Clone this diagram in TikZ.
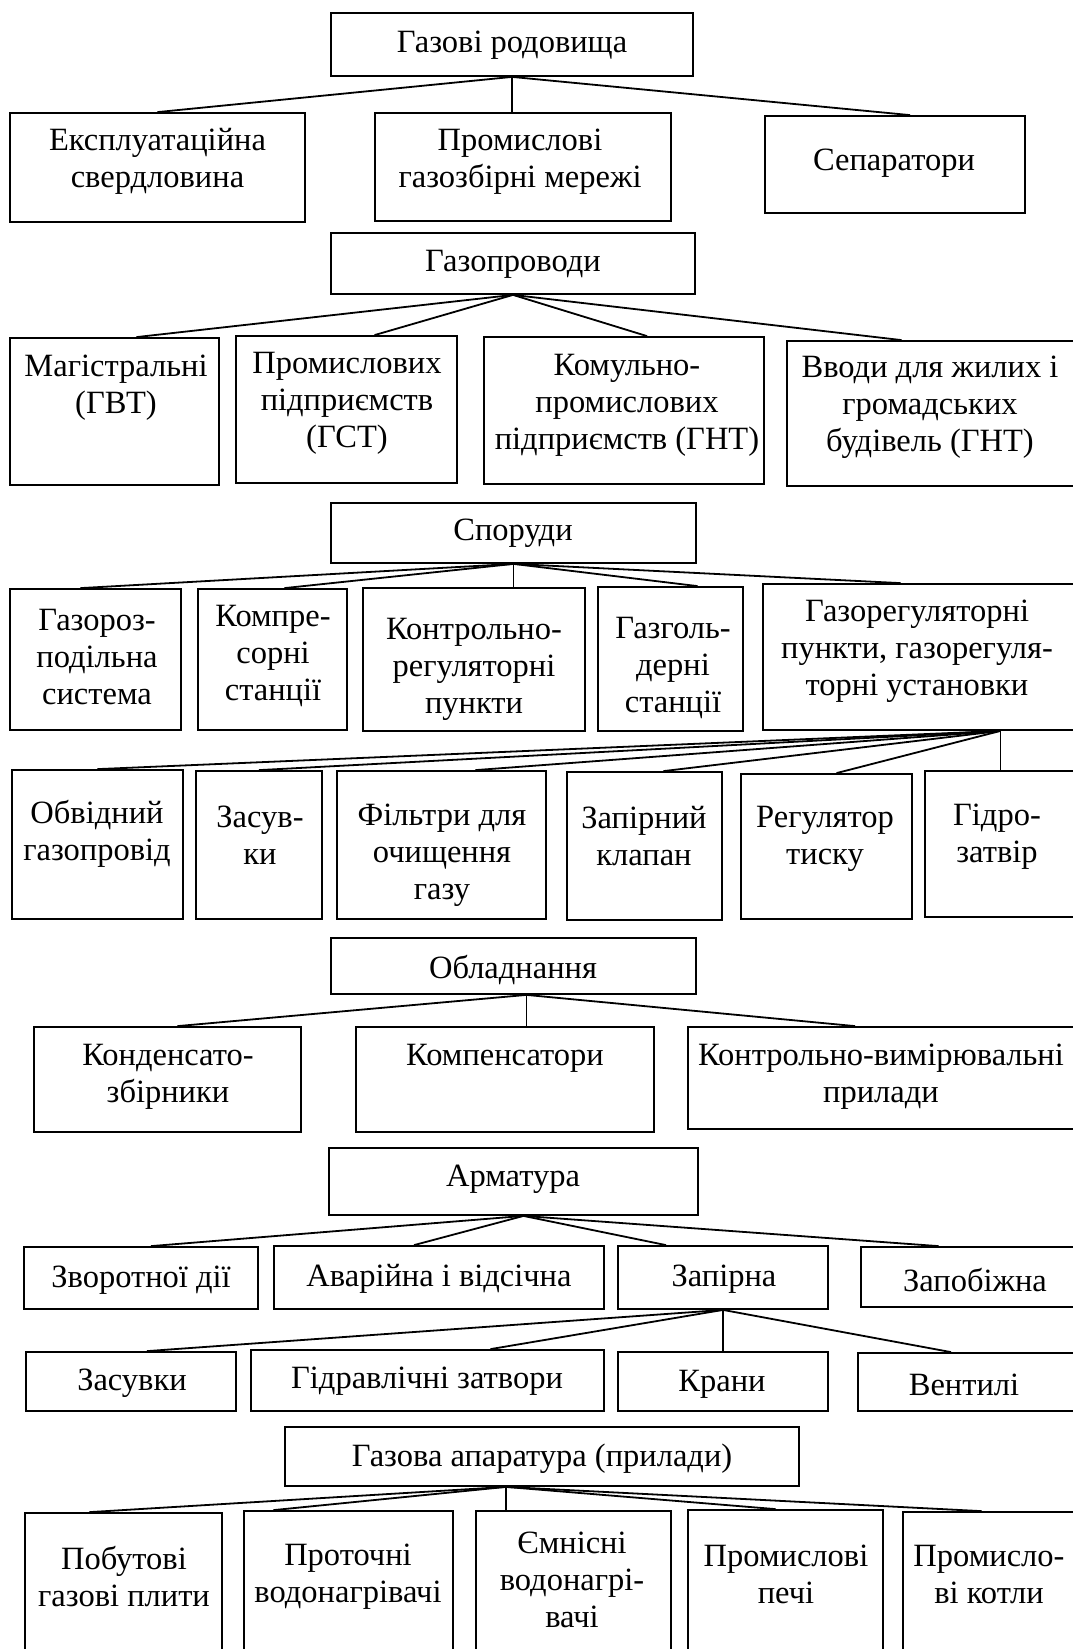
\documentclass[tikz,border=0pt]{standalone}
\usepackage{fontspec}
\setmainfont{Liberation Serif}
\usetikzlibrary{calc}
\tikzset{
  box/.style={draw, line width=1.8pt, inner sep=0pt},
  txt/.style={align=center, inner sep=0pt, yshift=-2pt, font=\fontsize{32.5}{37}\selectfont},
  ln/.style={line width=1.8pt},
  thinln/.style={line width=1.2pt}
}
\begin{document}
\begin{tikzpicture}[x=1pt,y=-1pt]
\useasboundingbox (0,0) rectangle (1073,1649);
\clip (0,0) rectangle (1073,1649);
% Газові родовища
\node[box, minimum width=362pt, minimum height=63pt] (gr) at (512,44.5) {};
\node[txt] (grT) at (512,43) {Газові родовища};
\node[box, minimum width=295pt, minimum height=109pt] (expl) at (157.5,167.5) {};
\node[txt] (explT) at (157.5,159) {Експлуатаційна\\свердловина};
\node[box, minimum width=296pt, minimum height=108pt] (prom) at (523,167) {};
\node[txt] (promT) at (520,160) {Промислові\\газозбірні мережі};
\node[box, minimum width=260pt, minimum height=97pt] (sep) at (895,164.5) {};
\node[txt] (sepT) at (894,161) {Сепаратори};
\draw[ln] (gr.south) -- (expl.north);
\draw[thinln] (gr.south) -- (gr.south |- prom.north);
\draw[ln] (gr.south) -- ($(sep.north)+(15,0)$);
% Газопроводи
\node[box, minimum width=364pt, minimum height=61pt] (gp) at (513,263.5) {};
\node[txt] (gpT) at (513,262) {Газопроводи};
\node[box, minimum width=209pt, minimum height=147pt] (mag) at (114.5,411.5) {};
\node[txt] (magT) at (116,386) {Магістральні\\(ГВТ)};
\node[box, minimum width=221pt, minimum height=147pt] (pp) at (346.5,409.5) {};
\node[txt] (ppT) at (347,401) {Промислових\\підприємств\\(ГСТ)};
\node[box, minimum width=280pt, minimum height=147pt] (kp) at (624,410.5) {};
\node[txt] (kpT) at (627,403) {Комульно-\\промислових\\підприємств (ГНТ)};
\node[box, minimum width=289pt, minimum height=145pt] (vv) at (931.5,413.5) {};
\node[txt] (vvT) at (930,405.5) {Вводи для жилих і\\громадських\\будівель (ГНТ)};
\draw[ln] (gp.south) -- ($(mag.north)+(22,0)$);
\draw[ln] (gp.south) -- ($(pp.north)+(28,0)$);
\draw[ln] (gp.south) -- ($(kp.north)+(23,0)$);
\draw[ln] (gp.south) -- ($(vv.north)+(-30,0)$);
% Споруди
\node[box, minimum width=365pt, minimum height=60pt] (sp) at (513.5,533) {};
\node[txt] (spT) at (513,531) {Споруди};
\node[box, minimum width=171pt, minimum height=141pt] (grs) at (95.5,659.5) {};
\node[txt] (grsT) at (97,655) {Газороз-\\подільна\\система};
\node[box, minimum width=149pt, minimum height=141pt] (ks) at (272.5,659.5) {};
\node[txt] (ksT) at (273,654) {Компре-\\сорні\\станції};
\node[box, minimum width=222pt, minimum height=143pt] (krp) at (474,659.5) {};
\node[txt] (krpT) at (474,667) {Контрольно-\\регуляторні\\пункти};
\node[box, minimum width=145pt, minimum height=144pt] (gs) at (670.5,659) {};
\node[txt] (gsT) at (673,666) {Газголь-\\дерні\\станції};
\node[box, minimum width=313pt, minimum height=146pt] (grp) at (919.5,657) {};
\node[txt] (grpT) at (917,649) {Газорегуляторні\\пункти, газорегуля-\\торні установки};
\draw[ln] (sp.south) -- ($(grs.north)+(-15,0)$);
\draw[ln] (sp.south) -- ($(ks.north)+(12,0)$);
\draw[thinln] (sp.south) -- (sp.south |- krp.north);
\draw[ln] (sp.south) -- ($(gs.north)+(27,0)$);
\draw[ln] (sp.south) -- ($(grp.north)+(-19,0)$);
% ГРП
\node[box, minimum width=171pt, minimum height=149pt] (obv) at (97.5,844.5) {};
\node[txt] (obvT) at (97,832) {Обвідний\\газопровід};
\node[box, minimum width=126pt, minimum height=148pt] (zas) at (259,845) {};
\node[txt] (zasT) at (260,833) {Засув-\\ки};
\node[box, minimum width=209pt, minimum height=148pt] (fil) at (441.5,845) {};
\node[txt] (filT) at (442,853) {Фільтри для\\очищення\\газу};
\node[box, minimum width=155pt, minimum height=148pt] (zk) at (644.5,846) {};
\node[txt] (zkT) at (644,834) {Запірний\\клапан};
\node[box, minimum width=171pt, minimum height=145pt] (reg) at (826.5,846.5) {};
\node[txt] (regT) at (825,837) {Регулятор\\тиску};
\node[box, minimum width=151pt, minimum height=146pt] (gzt) at (1000.5,844) {};
\node[txt] (gztT) at (997,835) {Гідро-\\затвір};
\coordinate (hub) at (grp.south -| gzt.north);
\draw[ln] (hub) -- (obv.north);
\draw[ln] (hub) -- (zas.north);
\draw[ln] (hub) -- ($(fil.north)+(34,0)$);
\draw[ln] (hub) -- ($(zk.north)+(19,0)$);
\draw[ln] (hub) -- ($(reg.north)+(10,0)$);
\draw[ln] (hub) -- (gzt.north);
% Обладнання
\node[box, minimum width=365pt, minimum height=56pt] (ob) at (513.5,966) {};
\node[txt] (obT) at (513,968) {Обладнання};
\node[box, minimum width=267pt, minimum height=105pt] (kz) at (167.5,1079.5) {};
\node[txt] (kzT) at (168,1075) {Конденсато-\\збірники};
\node[box, minimum width=298pt, minimum height=105pt] (km) at (505,1079.5) {};
\node[txt] (kmT) at (505,1056) {Компенсатори};
\node[box, minimum width=388pt, minimum height=102pt] (kv) at (882,1078) {};
\node[txt] (kvT) at (881,1075) {Контрольно-вимірювальні\\прилади};
\coordinate (obhub) at ($(ob.south)+(13,0)$);
\draw[ln] (obhub) -- ($(kz.north)+(10,0)$);
\draw[thinln] (obhub) -- (obhub |- km.north);
\draw[ln] (obhub) -- ($(kv.north)+(-27,0)$);
% Арматура
\node[box, minimum width=369pt, minimum height=67pt] (arm) at (513.5,1181.5) {};
\node[txt] (armT) at (513,1177) {Арматура};
\node[box, minimum width=234pt, minimum height=62pt] (zd) at (141,1278) {};
\node[txt] (zdT) at (141,1278) {Зворотної дії};
\node[box, minimum width=330pt, minimum height=63pt] (av) at (439,1277.5) {};
\node[txt] (avT) at (439,1277) {Аварійна і відсічна};
\node[box, minimum width=210pt, minimum height=63pt] (zap) at (723,1277.5) {};
\node[txt] (zapT) at (724,1277) {Запірна};
\node[box, minimum width=215pt, minimum height=60pt] (zpb) at (968.5,1277) {};
\node[txt] (zpbT) at (975,1278) {Запобіжна};
\coordinate (armhub) at ($(arm.south)+(10,0)$);
\draw[ln] (armhub) -- ($(zd.north)+(10,0)$);
\draw[ln] (armhub) -- ($(av.north)+(-25,0)$);
\draw[ln] (armhub) -- ($(zap.north)+(-57,0)$);
\draw[ln] (armhub) -- ($(zpb.north)+(-30,0)$);
% Запірна
\node[box, minimum width=210pt, minimum height=59pt] (zsv) at (131,1381.5) {};
\node[txt] (zsvT) at (132,1381) {Засувки};
\node[box, minimum width=353pt, minimum height=61pt] (gz) at (427.5,1380.5) {};
\node[txt] (gzT) at (427,1379) {Гідравлічні затвори};
\node[box, minimum width=210pt, minimum height=59pt] (kr) at (723,1381.5) {};
\node[txt] (krT) at (722,1382) {Крани};
\node[box, minimum width=218pt, minimum height=58pt] (vnt) at (967,1382) {};
\node[txt] (vntT) at (964,1383) {Вентилі};
\draw[ln] (zap.south) -- ($(zsv.north)+(16,0)$);
\draw[ln] (zap.south) -- ($(gz.north)+(63,0)$);
\draw[thinln] (zap.south) -- (kr.north);
\draw[ln] (zap.south) -- ($(vnt.north)+(-16,0)$);
% Газова апаратура
\node[box, minimum width=514pt, minimum height=59pt] (ga) at (542,1456.5) {};
\node[txt] (gaT) at (542,1457) {Газова апаратура (прилади)};
\node[box, minimum width=197pt, minimum height=139pt] (pb) at (123.5,1582.5) {};
\node[txt] (pbT) at (124,1575) {Побутові\\газові плити};
\node[box, minimum width=209pt, minimum height=141pt] (pr) at (348.5,1581.5) {};
\node[txt] (prT) at (348,1575) {Проточні\\водонагрівачі};
\node[box, minimum width=195pt, minimum height=141pt] (em) at (573.5,1581.5) {};
\node[txt] (emT) at (572,1578) {Ємнісні\\водонагрі-\\вачі};
\node[box, minimum width=195pt, minimum height=142pt] (ppc) at (785.5,1581) {};
\node[txt] (ppcT) at (786,1572) {Промислові\\печі};
\node[box, minimum width=173pt, minimum height=140pt] (pk) at (989.5,1582) {};
\node[txt] (pkT) at (989,1572) {Промисло-\\ві котли};
\coordinate (gahub) at ($(ga.south)+(-36,0)$);
\draw[ln] (gahub) -- ($(pb.north)+(-34,0)$);
\draw[ln] (gahub) -- ($(pr.north)+(-75,0)$);
\draw[thinln] (gahub) -- (gahub |- em.north);
\draw[ln] (gahub) -- ($(ppc.north)+(-10,0)$);
\draw[ln] (gahub) -- ($(pk.north)+(-8,0)$);
\end{tikzpicture}
\end{document}
